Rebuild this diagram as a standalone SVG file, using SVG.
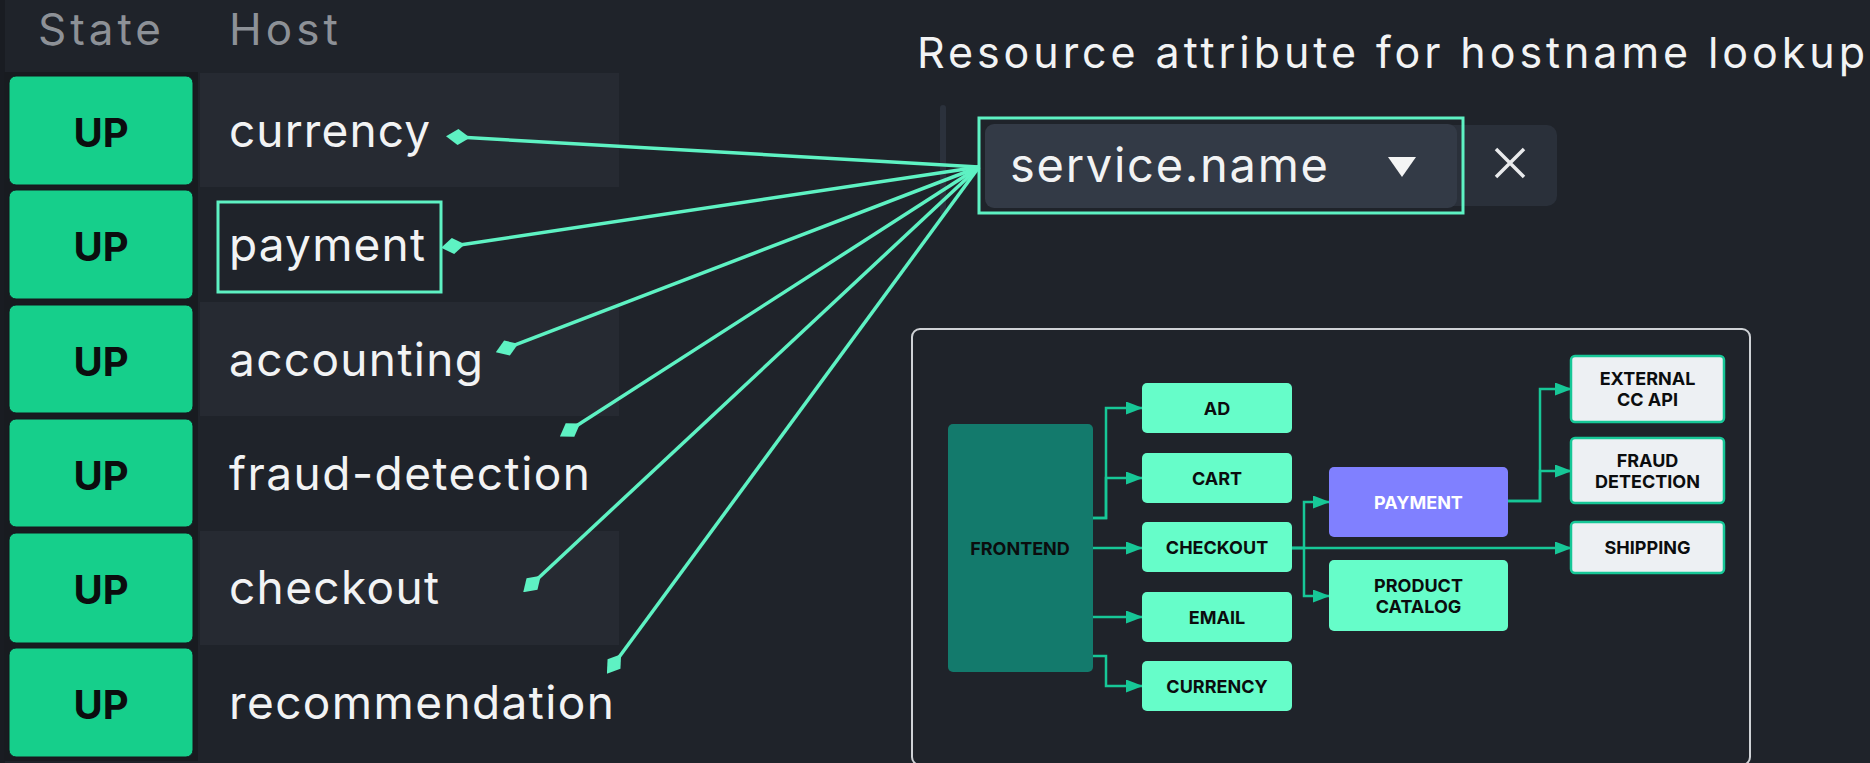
<svg xmlns="http://www.w3.org/2000/svg" width="1870" height="763" viewBox="0 0 1870 763">
<defs>
<style>
.bg{fill:#1f232a}
.rowbg{fill:#262a32}
.up{fill:#16cf8b;stroke:#14181d;stroke-width:1}
.uptxt{font-family:Inter,"Liberation Sans",sans-serif;font-weight:700;font-size:40px;fill:#0b0d0e;text-anchor:middle}
.host{font-family:Inter,"Liberation Sans",sans-serif;font-size:46px;fill:#f2f3f4}
.hdr{font-family:Inter,"Liberation Sans",sans-serif;font-size:44px;fill:#8d9197}
.title{font-family:Inter,"Liberation Sans",sans-serif;font-size:43px;fill:#f2f3f4}
.hl{fill:none;stroke:#5ef2c3;stroke-width:3}
.link{fill:none;stroke:#5ef2c3;stroke-width:3.5;marker-start:url(#dia)}
.flow{fill:none;stroke:#17c797;stroke-width:2.5;marker-end:url(#arr)}
.mint{fill:#66fdc9}
.ext{fill:#edf0f3;stroke:#17c797;stroke-width:2.5}
.lbl{font-family:Inter,"Liberation Sans",sans-serif;font-weight:700;font-size:18px;fill:#0b0d0e;text-anchor:middle}
</style>
<marker id="dia" markerUnits="userSpaceOnUse" viewBox="-12 -9 24 18" markerWidth="24" markerHeight="18" refX="0" refY="0" orient="auto">
<path d="M-12,0 L0,-8 L12,0 L0,8 Z" fill="#5ef2c3"/>
</marker>
<marker id="arr" markerUnits="userSpaceOnUse" viewBox="0 0 17 13" markerWidth="17" markerHeight="13" refX="16" refY="6.5" orient="auto">
<path d="M0,0 L17,6.5 L0,13 Z" fill="#17c797"/>
</marker>
</defs>
<rect class="bg" x="0" y="0" width="1870" height="763"/>

<g id="table">
<rect x="0" y="0" width="5" height="763" fill="#191c22"/>
<text class="hdr" x="38" y="45" textLength="123" lengthAdjust="spacing">State</text>
<text class="hdr" x="229" y="45" textLength="109" lengthAdjust="spacing">Host</text>
<rect x="4" y="72" width="194" height="689" fill="#181b20"/>
<rect class="rowbg" x="200" y="73" width="419" height="114"/>
<rect class="rowbg" x="200" y="302" width="419" height="114"/>
<rect class="rowbg" x="200" y="531" width="419" height="114"/>
</g>

<g id="row-currency">
<rect class="up" x="9" y="76" width="184" height="109" rx="7"/>
<text class="uptxt" x="101" y="147">UP</text>
<text class="host" x="229" y="147" textLength="201" lengthAdjust="spacing">currency</text>
</g>
<g id="row-payment">
<rect class="up" x="9" y="190" width="184" height="109" rx="7"/>
<text class="uptxt" x="101" y="261">UP</text>
<text class="host" x="229" y="261" textLength="196" lengthAdjust="spacing">payment</text>
<rect class="hl" x="218" y="202" width="223" height="90"/>
</g>
<g id="row-accounting">
<rect class="up" x="9" y="305" width="184" height="108" rx="7"/>
<text class="uptxt" x="101" y="376">UP</text>
<text class="host" x="229" y="376" textLength="254" lengthAdjust="spacing">accounting</text>
</g>
<g id="row-fraud-detection">
<rect class="up" x="9" y="419" width="184" height="108" rx="7"/>
<text class="uptxt" x="101" y="490">UP</text>
<text class="host" x="229" y="490" textLength="361" lengthAdjust="spacing">fraud-detection</text>
</g>
<g id="row-checkout">
<rect class="up" x="9" y="533" width="184" height="110" rx="7"/>
<text class="uptxt" x="101" y="604">UP</text>
<text class="host" x="229" y="604" textLength="210" lengthAdjust="spacing">checkout</text>
</g>
<g id="row-recommendation">
<rect class="up" x="9" y="648" width="184" height="109" rx="7"/>
<text class="uptxt" x="101" y="719">UP</text>
<text class="host" x="229" y="719" textLength="385" lengthAdjust="spacing">recommendation</text>
</g>

<g id="attribute">
<text class="title" x="917" y="68" textLength="948" lengthAdjust="spacing">Resource attribute for hostname lookup</text>
<rect x="940" y="105" width="6" height="110" rx="3" fill="#2b313c"/>
<rect x="1440" y="125" width="117" height="81" rx="10" fill="#2a303a"/>
<rect x="985" y="124" width="472" height="84" rx="9" fill="#333a46"/>
<text class="host" x="1010" y="182" font-size="47" style="font-size:47px" textLength="318" lengthAdjust="spacing">service.name</text>
<path d="M1388,157 L1416,157 L1402,177 Z" fill="#f4f4f4"/>
<path d="M1496,149 L1524,177 M1524,149 L1496,177" stroke="#e9eaec" stroke-width="3.5" fill="none"/>
<rect class="hl" x="979" y="118" width="484" height="95"/>
</g>

<g id="links">
<path class="link" d="M458,137 L979,167"/>
<path class="link" d="M453,246 L979,167"/>
<path class="link" d="M507,348 L979,167"/>
<path class="link" d="M570,430 L979,167"/>
<path class="link" d="M532,584 L979,167"/>
<path class="link" d="M614,664 L979,167"/>
</g>

<g id="architecture">
<rect x="912" y="329" width="838" height="436" rx="8" fill="none" stroke="#cfd2d6" stroke-width="2"/>
</g>

<g id="flows">
<path class="flow" d="M1093,518 H1106 V408 H1142"/>
<path class="flow" d="M1093,518 H1106 V478 H1142"/>
<path class="flow" d="M1093,548 H1142"/>
<path class="flow" d="M1093,617 H1142"/>
<path class="flow" d="M1093,656 H1106 V686 H1142"/>
<path class="flow" d="M1292,548 H1304 V502 H1329"/>
<path class="flow" d="M1292,548 H1304 V596 H1329"/>
<path class="flow" d="M1292,548 H1571"/>
<path class="flow" d="M1508,501 H1540 V389 H1571"/>
<path class="flow" d="M1508,501 H1540 V471 H1571"/>
</g>

<g id="frontend">
<rect x="948" y="424" width="145" height="248" rx="5" fill="#137a6c"/>
<text class="lbl" x="1020" y="555">FRONTEND</text>
</g>
<g id="ad">
<rect class="mint" x="1142" y="383" width="150" height="50" rx="5"/>
<text class="lbl" x="1217" y="414.5">AD</text>
</g>
<g id="cart">
<rect class="mint" x="1142" y="453" width="150" height="50" rx="5"/>
<text class="lbl" x="1217" y="484.5">CART</text>
</g>
<g id="checkout">
<rect class="mint" x="1142" y="522" width="150" height="50" rx="5"/>
<text class="lbl" x="1217" y="553.5">CHECKOUT</text>
</g>
<g id="email">
<rect class="mint" x="1142" y="592" width="150" height="50" rx="5"/>
<text class="lbl" x="1217" y="623.5">EMAIL</text>
</g>
<g id="currency">
<rect class="mint" x="1142" y="661" width="150" height="50" rx="5"/>
<text class="lbl" x="1217" y="692.5">CURRENCY</text>
</g>
<g id="payment">
<rect x="1329" y="467" width="179" height="70" rx="5" fill="#8080ff"/>
<text class="lbl" x="1418.5" y="508.5" style="fill:#ffffff">PAYMENT</text>
</g>
<g id="product-catalog">
<rect class="mint" x="1329" y="560" width="179" height="71" rx="5"/>
<text class="lbl" x="1418.5" y="592">PRODUCT</text>
<text class="lbl" x="1418.5" y="613">CATALOG</text>
</g>
<g id="external-cc-api">
<rect class="ext" x="1571" y="356" width="153" height="66" rx="4"/>
<text class="lbl" x="1647.5" y="385">EXTERNAL</text>
<text class="lbl" x="1647.5" y="406">CC API</text>
</g>
<g id="fraud-detection">
<rect class="ext" x="1571" y="438" width="153" height="65" rx="4"/>
<text class="lbl" x="1647.5" y="467">FRAUD</text>
<text class="lbl" x="1647.5" y="488">DETECTION</text>
</g>
<g id="shipping">
<rect class="ext" x="1571" y="522" width="153" height="51" rx="4"/>
<text class="lbl" x="1647.5" y="554">SHIPPING</text>
</g>
</svg>
